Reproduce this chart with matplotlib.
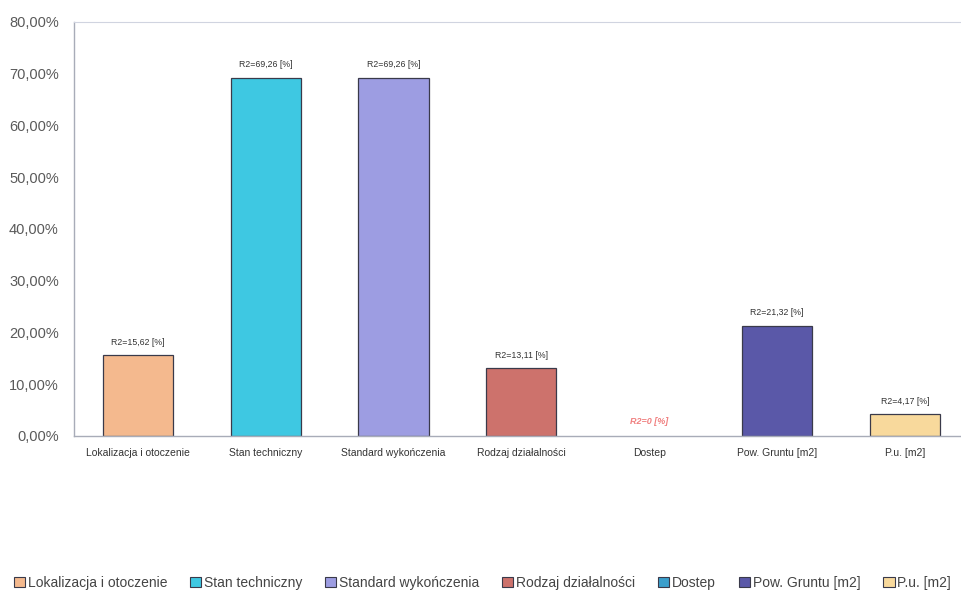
import matplotlib
matplotlib.use("Agg")
import matplotlib.pyplot as plt
from matplotlib.patches import Patch
from matplotlib.ticker import FuncFormatter

plt.rcParams['font.family'] = ['Liberation Sans', 'DejaVu Sans']

kategorie = ["Lokalizacja i otoczenie", "Stan techniczny", "Standard wykończenia",
             "Rodzaj działalności", "Dostep", "Pow. Gruntu [m2]", "P.u. [m2]"]
etykiety_osi = ["Lokalizacja i otoczenie", "Stan techniczny", "Standard wykończenia",
                "Rodzaj działalności", "Dostep", "Pow. Gruntu [m2]", "P.u. [m2]"]
r2 = [15.62, 69.26, 69.26, 13.11, 0.0, 21.32, 4.17]
kolory = ["#f4b98e", "#3ec8e2", "#9d9de2", "#cd726c", "#3b9fcc", "#5a58a8", "#f8d99c"]

fig = plt.figure(figsize=(9.61, 5.96), dpi=100)
ax = fig.add_axes([0.077, 0.2685, 0.931, 0.6946])

x = list(range(len(r2)))
slupki = ax.bar(x, r2, width=0.55, color=kolory, edgecolor="#3a3a4a", linewidth=0.9)
# zerowy slupek bez obramowania
for b, v in zip(slupki, r2):
    if v == 0:
        b.set_linewidth(0)

# opisy nad slupkami
for xi, v in zip(x, r2):
    tekst = "R2=" + ("%.2f" % v).replace(".", ",") + " [%]"
    if v == 0:
        ax.text(xi, v + 1.9, "R2=0 [%]", ha="center", va="bottom", fontsize=6.5,
                color="#f08080", style="italic", fontweight="bold")
    else:
        ax.text(xi, v + 1.6, tekst, ha="center", va="bottom", fontsize=6.3, color="#333333")

ax.set_xlim(-0.5, len(r2) - 0.5)
ax.set_ylim(0, 80)
ax.set_yticks(range(0, 81, 10))
ax.yaxis.set_major_formatter(FuncFormatter(lambda v, p: ("%.2f%%" % v).replace(".", ",")))
ax.set_xticks(x)
ax.set_xticklabels(etykiety_osi, fontsize=7.5, color="#333333")
ax.tick_params(axis="y", labelsize=10.5, colors="#5a5a5a", length=0, pad=11)
ax.tick_params(axis="x", length=0, pad=9)
for s in ["top", "right"]:
    ax.spines[s].set_color("#d0d4e0")
    ax.spines[s].set_linewidth(0.8)
for s in ["left", "bottom"]:
    ax.spines[s].set_color("#a8acb8")
    ax.spines[s].set_linewidth(1.0)

uchwyty = [Patch(facecolor=k, edgecolor="#3a3a4a", linewidth=0.8) for k in kolory]
fig.legend(uchwyty, kategorie, loc="center", bbox_to_anchor=(0.502, 0.022), ncol=7,
           frameon=False, fontsize=10, handlelength=0.8, handleheight=0.8,
           handletextpad=0.2, columnspacing=1.65, labelcolor="#444444")

fig.savefig("out.png", dpi=100)
